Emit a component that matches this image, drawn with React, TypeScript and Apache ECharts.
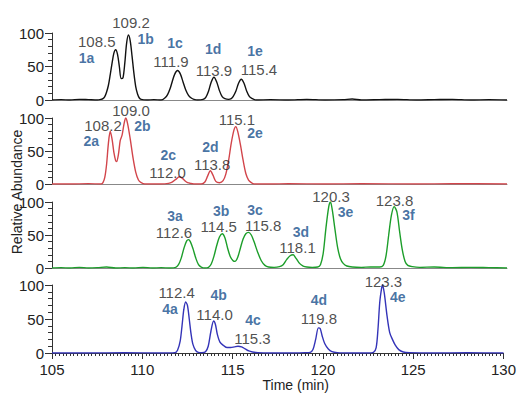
import React, { useEffect, useRef } from "react";
import * as echarts from "echarts";

type P = [number, number];
type L = [string, number, number];

const trace1: P[] = [
  [105, 0], [105.5, 0.5], [106, 0], [106.5, 1], [107, 0.5], [107.5, 0], [107.7, 1], [107.8, 2], [107.9, 5], [108.0, 12], [108.1, 22], [108.2, 38], [108.3, 55], [108.4, 70], [108.5, 75], [108.6, 68], [108.7, 50], [108.8, 32], [108.9, 33], [109.0, 55], [109.1, 85], [109.2, 97], [109.3, 88], [109.4, 65], [109.5, 40], [109.6, 20], [109.7, 9], [109.8, 3], [109.9, 1], [110.2, 0], [110.6, 0.5], [111.0, 0], [111.2, 3], [111.35, 8], [111.5, 18], [111.6, 27], [111.75, 39], [111.9, 44], [112.05, 39], [112.2, 27], [112.35, 15], [112.5, 7], [112.65, 3], [112.8, 1], [113.0, 0], [113.3, 1], [113.45, 4], [113.6, 13], [113.75, 27], [113.9, 34], [114.05, 27], [114.2, 14], [114.35, 5], [114.5, 2], [114.7, 1], [114.85, 2], [114.95, 5], [115.1, 13], [115.25, 25], [115.4, 31], [115.55, 25], [115.7, 13], [115.85, 5], [116.0, 2], [116.2, 0], [117, 0.5], [118, 0], [119, 1], [120, 0], [121, 0.5], [121.5, 1.5], [122, 0], [123, 0.5], [124, 1], [125, 0], [126, 0.5], [127, 1], [128, 0], [129, 0.5], [130, 0],
];

const trace2: P[] = [
  [105, 0], [106, 0], [107, 0.5], [107.7, 0], [107.8, 2], [107.9, 10], [108.0, 30], [108.1, 62], [108.2, 80], [108.3, 68], [108.4, 48], [108.5, 35], [108.55, 34], [108.65, 45], [108.75, 66], [108.85, 74], [108.95, 90], [109.05, 100], [109.15, 92], [109.3, 68], [109.45, 40], [109.6, 18], [109.75, 6], [109.9, 2], [110.1, 0], [110.5, 0], [111.0, 0], [111.4, 1], [111.6, 3], [111.8, 7], [112.0, 11], [112.15, 9], [112.3, 5], [112.45, 2], [112.6, 1], [112.9, 0], [113.2, 0], [113.4, 3], [113.55, 12], [113.7, 20], [113.85, 13], [114.0, 4], [114.2, 2], [114.4, 5], [114.55, 15], [114.7, 35], [114.85, 62], [115.0, 82], [115.1, 87], [115.2, 80], [115.35, 60], [115.5, 36], [115.65, 16], [115.8, 6], [115.95, 2], [116.1, 0], [117, 0], [118, 0.5], [120, 0], [122, 0.5], [125, 0], [127, 0.5], [130, 0],
];

const trace3: P[] = [
  [105, 0], [105.5, 0.5], [106, 0], [106.5, 1], [107, 0], [107.5, 0.5], [108, 1.5], [108.5, 0], [109, 0.5], [109.5, 0], [110, 1], [110.5, 0], [111, 0.5], [111.5, 0], [111.8, 1], [111.95, 5], [112.1, 15], [112.25, 30], [112.4, 41], [112.5, 43], [112.6, 40], [112.75, 29], [112.9, 15], [113.05, 5], [113.2, 1.5], [113.4, 0], [113.6, 1], [113.75, 6], [113.9, 18], [114.05, 34], [114.2, 47], [114.35, 52], [114.5, 46], [114.65, 30], [114.8, 17], [114.95, 11], [115.05, 10], [115.2, 16], [115.35, 30], [115.5, 44], [115.65, 52], [115.8, 54], [115.95, 50], [116.1, 40], [116.3, 24], [116.5, 11], [116.7, 4], [116.9, 1.5], [117.2, 1], [117.5, 2], [117.7, 5], [117.9, 13], [118.1, 19], [118.25, 20], [118.4, 15], [118.6, 7], [118.8, 3], [119.0, 1.5], [119.3, 1], [119.6, 1.5], [119.75, 5], [119.9, 22], [120.05, 60], [120.2, 92], [120.3, 100], [120.4, 88], [120.55, 58], [120.7, 30], [120.85, 14], [121.0, 7], [121.2, 3], [121.5, 1.5], [122, 1], [122.5, 1.5], [123.0, 1.5], [123.2, 4], [123.35, 18], [123.5, 50], [123.65, 80], [123.8, 93], [123.95, 85], [124.1, 55], [124.25, 27], [124.4, 10], [124.55, 4], [124.8, 2], [125.2, 1], [126, 1.5], [127, 0.5], [128, 1], [129, 0.5], [130, 0],
];

const trace4: P[] = [
  [105, 0], [107, 0], [109, 0.5], [111, 0], [111.8, 0.5], [111.95, 4], [112.1, 18], [112.2, 40], [112.3, 64], [112.4, 75], [112.5, 70], [112.6, 50], [112.7, 28], [112.8, 13], [112.95, 4], [113.1, 1], [113.3, 0.5], [113.5, 2], [113.65, 10], [113.8, 32], [113.95, 47], [114.05, 42], [114.15, 28], [114.3, 16], [114.5, 11], [114.7, 8], [114.9, 8], [115.1, 9], [115.3, 10], [115.5, 9], [115.7, 6], [115.9, 3], [116.1, 1.5], [116.4, 0.5], [117, 0], [118, 0], [119, 0.5], [119.3, 1], [119.45, 5], [119.6, 20], [119.75, 37], [119.85, 36], [119.95, 26], [120.1, 14], [120.3, 6], [120.5, 2], [120.8, 0.5], [121.5, 0], [122.5, 0], [122.8, 1], [122.95, 8], [123.05, 35], [123.15, 75], [123.25, 95], [123.3, 100], [123.4, 88], [123.55, 55], [123.7, 30], [123.85, 20], [124.0, 12], [124.2, 5], [124.45, 1.5], [124.8, 0.5], [126, 0], [128, 0.3], [130, 0],
];

// retention-time labels: [text, x (min), y (%)]
const times1: L[] = [["108.5", 107.46, 87], ["109.2", 109.34, 115], ["111.9", 111.54, 57], ["113.9", 113.9, 44], ["115.4", 116.37, 45]];
const times2: L[] = [["108.2", 107.8, 89], ["109.0", 109.34, 112], ["112.0", 111.35, 18], ["113.8", 113.8, 30], ["115.1", 115.16, 98]];
const times3: L[] = [["112.6", 111.7, 54], ["114.5", 114.16, 63], ["115.8", 116.6, 65], ["118.1", 118.49, 31], ["120.3", 120.33, 108], ["123.8", 123.82, 103]];
const times4: L[] = [["112.4", 111.9, 89], ["114.0", 114.0, 56], ["115.3", 116.1, 22], ["119.8", 119.78, 51], ["123.3", 123.35, 105]];

// compound labels
const ids1: L[] = [["1a", 106.9, 63], ["1b", 110.14, 91], ["1c", 111.76, 85], ["1d", 113.85, 76], ["1e", 116.15, 73]];
const ids2: L[] = [["2a", 107.16, 65], ["2b", 109.97, 88], ["2c", 111.39, 44], ["2d", 113.7, 56], ["2e", 116.15, 77]];
const ids3: L[] = [["3a", 111.76, 79], ["3b", 114.29, 86], ["3c", 116.15, 88], ["3d", 118.68, 54], ["3e", 121.13, 85], ["3f", 124.59, 80]];
const ids4: L[] = [["4a", 111.54, 65], ["4b", 114.23, 85], ["4c", 116.13, 49], ["4d", 119.78, 78], ["4e", 124.15, 82]];

const yTicks = [0, 50, 100];
const xMin = 105;
const xMax = 130;

const traces = [trace1, trace2, trace3, trace4];
const times = [times1, times2, times3, times4];
const ids = [ids1, ids2, ids3, ids4];
const colors = ["#111111", "#d2454b", "#1c9e2a", "#3434b8"];
const gridTops = [33, 118, 202, 285];
const gridHeights = [67, 66, 66, 68];

const FONT = "'Liberation Sans', Arial, sans-serif";

export default function App() {
  const ref = useRef<HTMLDivElement>(null);
  useEffect(() => {
    document.body.style.margin = "0";
    if (!ref.current) return;
    const chart = echarts.init(ref.current, null, { renderer: "svg" });
    const grids = gridTops.map((t, i) => ({ left: 52, right: 12, top: t, height: gridHeights[i] }));
    const xAxes = gridTops.map((_, i) => {
      const bottom = i === 3;
      return {
        type: "value",
        gridIndex: i,
        min: xMin,
        max: xMax,
        interval: 5,
        axisLine: { show: true, onZero: false, lineStyle: { color: bottom ? "#333" : "#888", width: 1 } },
        axisTick: { show: bottom, length: 6, lineStyle: { color: "#333" } },
        minorTick: { show: bottom, splitNumber: 25, length: 3, lineStyle: { color: "#333" } },
        axisLabel: { show: bottom, fontSize: 15, color: "#222", fontFamily: FONT, margin: 9 },
        splitLine: { show: false },
        name: bottom ? "Time (min)" : "",
        nameLocation: "middle",
        nameGap: 24,
        nameTextStyle: { fontSize: 14, color: "#222", fontFamily: FONT, padding: [0, 0, 0, 36] },
      };
    });
    const yAxes = gridTops.map((_, i) => ({
      type: "value",
      gridIndex: i,
      min: yTicks[0],
      max: yTicks[yTicks.length - 1],
      interval: 50,
      axisLine: { show: true, lineStyle: { color: "#333", width: 1 } },
      axisTick: { show: true, length: 7, lineStyle: { color: "#333" } },
      minorTick: { show: true, splitNumber: 5, length: 4, lineStyle: { color: "#333" } },
      axisLabel: { fontSize: 15, color: "#222", fontFamily: FONT, margin: 8 },
      splitLine: { show: false },
    }));
    const series: any[] = [];
    traces.forEach((tr, i) => {
      series.push({
        type: "line",
        xAxisIndex: i,
        yAxisIndex: i,
        data: tr,
        showSymbol: false,
        smooth: 0.3,
        lineStyle: { color: colors[i], width: 1.4 },
        silent: true,
        z: 3,
      });
      series.push({
        type: "scatter",
        xAxisIndex: i,
        yAxisIndex: i,
        clip: false,
        symbolSize: 1,
        itemStyle: { color: "rgba(0,0,0,0)" },
        silent: true,
        z: 5,
        data: times[i].map((d) => ({ name: d[0], value: [d[1], d[2]] })),
        label: { show: true, position: "inside", formatter: "{b}", fontSize: 15, color: "#222", fontFamily: FONT },
      });
      series.push({
        type: "scatter",
        xAxisIndex: i,
        yAxisIndex: i,
        clip: false,
        symbolSize: 1,
        itemStyle: { color: "rgba(0,0,0,0)" },
        silent: true,
        z: 5,
        data: ids[i].map((d) => ({ name: d[0], value: [d[1], d[2]] })),
        label: { show: true, position: "inside", formatter: "{b}", fontSize: 14, fontWeight: "bold", color: "#174f8c", fontFamily: FONT },
      });
    });
    chart.setOption({
      animation: false,
      backgroundColor: "#ffffff",
      grid: grids,
      xAxis: xAxes,
      yAxis: yAxes,
      series,
      graphic: [
        {
          type: "text",
          x: 17,
          y: 192,
          rotation: Math.PI / 2,
          style: { text: "Relative Abundance", fontSize: 14, fill: "#222", fontFamily: FONT, textAlign: "center", textVerticalAlign: "middle" },
        },
      ],
    });
    return () => chart.dispose();
  }, []);
  return <div ref={ref} style={{ width: 519, height: 394 }} />;
}
